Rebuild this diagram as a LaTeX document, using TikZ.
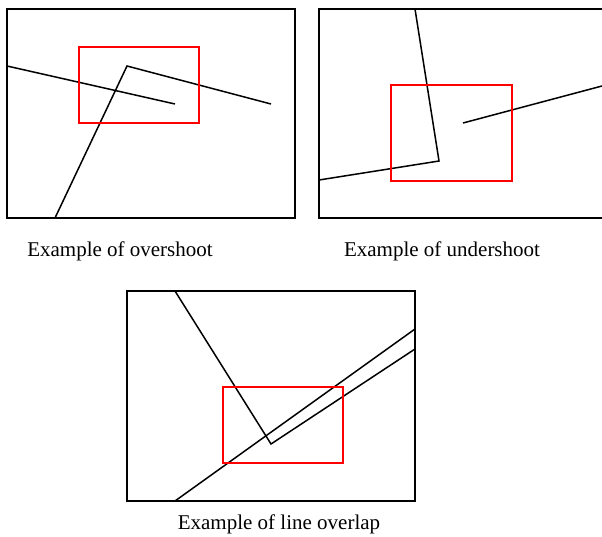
\documentclass[tikz,border=0pt]{standalone}
\usepackage{fontspec}
\setmainfont{Liberation Serif}
\begin{document}
\begin{tikzpicture}[x=1pt,y=-1pt,
  frame/.style={draw=black,line width=1.5pt},
  seg/.style={draw=black,line width=1.5pt,line join=miter},
  zone/.style={draw=red,line width=2pt},
  caption/.style={font=\fontsize{21}{24}\selectfont,inner sep=0pt}]
\useasboundingbox (0,0) rectangle (602,536);
\clip (0,0) rectangle (602,536);
% Panel 1: overshoot
\draw[frame] (7,9) rectangle (295,218);
\coordinate (a1) at (7,66);
\coordinate (a2) at (175,104);
\coordinate (b1) at (55,218);
\coordinate (b2) at (127,66);
\coordinate (b3) at (271,104);
\draw[seg] (a1) -- (a2);
\draw[seg] (b1) -- (b2) -- (b3);
\draw[zone] (79,47) rectangle (199,123);
\node[caption] (c1) at (120,251.5) {Example of overshoot};
% Panel 2: undershoot
\draw[frame] (319,9) rectangle (610,218);
\coordinate (d1) at (415,9);
\coordinate (d2) at (439,161);
\coordinate (d3) at (319,180);
\coordinate (e1) at (463,123);
\coordinate (e2) at (602,86);
\draw[seg] (d1) -- (d2) -- (d3);
\draw[seg] (e1) -- (e2);
\draw[zone] (391,85) rectangle (512,181);
\node[caption] (c2) at (442,251.5) {Example of undershoot};
% Panel 3: line overlap
\draw[frame] (127,291) rectangle (415,501);
\coordinate (f1) at (175,291);
\coordinate (f2) at (271,444);
\coordinate (f3) at (415,349);
\coordinate (g1) at (175,501);
\coordinate (g2) at (415,329);
\draw[seg] (f1) -- (f2) -- (f3);
\draw[seg] (g1) -- (g2);
\draw[zone] (223,387) rectangle (343,463);
\node[caption] (c3) at (279,524.5) {Example of line overlap};
\end{tikzpicture}
\end{document}
